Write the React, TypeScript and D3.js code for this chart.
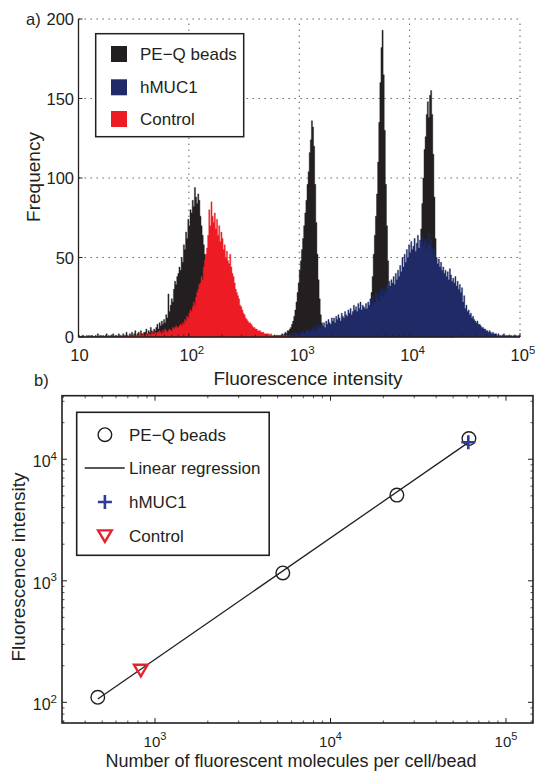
import React from "react";
import * as d3 from "d3";

// ---------- Panel a: flow-cytometry histograms (bins of 0.01 decade, one row = 0.1 decade) ----------
const BIN_WIDTH = 0.01;
const beadsStart = 1.0;
const beadsCounts = [
  1, 0, 0, 1, 1, 0, 0, 1, 0, 1,
  0, 1, 1, 0, 0, 1, 0, 2, 0, 1,
  1, 0, 1, 0, 1, 2, 0, 1, 0, 1,
  1, 2, 0, 1, 1, 0, 2, 1, 1, 0,
  2, 1, 1, 3, 1, 0, 2, 1, 3, 1,
  2, 4, 1, 2, 3, 1, 4, 2, 2, 3,
  3, 5, 2, 4, 3, 6, 4, 3, 5, 4,
  6, 8, 5, 9, 7, 10, 8, 11, 9, 14,
  12, 27, 16, 20, 24, 22, 30, 35, 33, 38,
  40, 44, 42, 50, 47, 58, 55, 66, 62, 74,
  70, 80, 78, 86, 82, 94, 88, 84, 90, 86,
  76, 70, 64, 58, 52, 46, 42, 36, 32, 28,
  25, 20, 18, 14, 12, 10, 8, 6, 5, 4,
  4, 3, 3, 2, 2, 2, 1, 1, 1, 1,
  1, 0, 1, 1, 0, 0, 1, 0, 0, 1,
  0, 1, 0, 0, 1, 0, 0, 0, 1, 0,
  0, 1, 0, 0, 0, 1, 0, 0, 1, 0,
  0, 0, 1, 0, 1, 0, 0, 1, 0, 1,
  1, 0, 1, 1, 2, 1, 2, 3, 2, 4,
  4, 5, 6, 8, 10, 13, 17, 22, 28, 34,
  42, 48, 55, 62, 70, 78, 86, 96, 104, 116,
  124, 136, 132, 120, 96, 72, 52, 36, 24, 14,
  9, 6, 4, 3, 2, 1, 1, 1, 0, 1,
  1, 0, 1, 1, 0, 1, 0, 1, 1, 0,
  1, 1, 0, 1, 1, 0, 1, 2, 1, 1,
  1, 2, 1, 2, 2, 3, 2, 3, 4, 5,
  6, 8, 10, 14, 20, 28, 38, 52, 64, 76,
  90, 110, 135, 160, 182, 193, 165, 130, 96, 70,
  48, 30, 18, 10, 6, 4, 3, 2, 2, 2,
  2, 1, 2, 2, 3, 2, 3, 3, 4, 3,
  4, 5, 5, 7, 9, 12, 18, 26, 38, 52,
  68, 84, 100, 118, 126, 140, 148, 138, 152, 155,
  140, 115, 88, 62, 40, 24, 14, 8, 4, 3,
  2, 2, 1, 2, 1, 1, 1, 1, 0, 1,
];
const hmuc1Start = 2.8;
const hmuc1Counts = [
  0, 1, 0, 1, 1, 0, 1, 1, 2, 1,
  1, 2, 1, 2, 2, 1, 3, 2, 2, 3,
  2, 3, 3, 4, 3, 2, 4, 5, 4, 3,
  5, 4, 6, 5, 7, 4, 6, 8, 6, 7,
  8, 7, 9, 6, 10, 8, 11, 9, 8, 12,
  10, 12, 9, 13, 11, 14, 12, 10, 15, 13,
  12, 16, 14, 13, 17, 15, 18, 14, 16, 20,
  17, 19, 16, 21, 18, 22, 17, 20, 19, 18,
  21, 18, 22, 20, 24, 19, 26, 22, 21, 28,
  24, 27, 23, 29, 26, 31, 25, 30, 28, 33,
  30, 35, 32, 36, 34, 38, 33, 40, 36, 42,
  38, 45, 41, 50, 44, 52, 47, 55, 50, 58,
  53, 60, 55, 57, 62, 54, 59, 64, 56, 61,
  58, 63, 57, 60, 62, 55, 59, 65, 58, 61,
  56, 52, 55, 48, 50, 46, 49, 44, 47, 42,
  44, 40, 42, 38, 41, 36, 43, 39, 35, 37,
  34, 38, 32, 35, 30, 33, 28, 31, 22, 26,
  18, 20, 16, 17, 14, 15, 12, 13, 11, 10,
  9, 10, 8, 8, 7, 6, 6, 5, 5, 4,
  4, 3, 4, 3, 2, 3, 2, 2, 2, 1,
  2, 1, 1, 1, 1, 2, 1, 1, 1, 1,
  1, 1, 1, 0, 1, 1, 1, 0, 1, 1,
];
const controlStart = 1.4;
const controlCounts = [
  0, 1, 0, 0, 1, 0, 1, 1, 0, 1,
  1, 0, 1, 1, 1, 2, 1, 1, 2, 1,
  1, 2, 1, 2, 2, 1, 3, 2, 2, 3,
  2, 3, 3, 4, 3, 2, 4, 3, 5, 4,
  3, 4, 5, 4, 4, 6, 5, 6, 7, 6,
  6, 7, 8, 7, 9, 8, 11, 10, 13, 12,
  15, 17, 16, 19, 22, 20, 25, 28, 30, 33,
  34, 38, 36, 44, 48, 52, 56, 64, 80, 70,
  85, 76, 72, 78, 68, 74, 64, 70, 60, 66,
  62, 55, 58, 50, 54, 48, 46, 52, 44, 40,
  38, 34, 30, 28, 26, 24, 20, 19, 17, 15,
  14, 12, 11, 10, 9, 9, 8, 7, 6, 6,
  5, 5, 4, 4, 4, 3, 3, 3, 2, 2,
  2, 2, 2, 1, 2, 1, 1, 1, 1, 1,
  1, 1, 0, 1, 1, 0, 1, 0, 1, 0,
  1, 0, 0, 0, 0,
];
const freqTicks = [0, 50, 100, 150, 200];
const intensityTicks = [1e1, 1e2, 1e3, 1e4, 1e5];

// ---------- Panel b: calibration ----------
const beadMolecules = [472, 5350, 23900, 61500];
const beadIntensity = [110, 1160, 5070, 14800];
const hmuc1Point = { molecules: 61000, intensity: 13800 };
const controlPoint = { molecules: 830, intensity: 185 };
const bXTicks = [1e3, 1e4, 1e5];
const bYTicks = [1e2, 1e3, 1e4];

const seriesA = [
  { name: "PE\u2212Q beads", start: beadsStart, counts: beadsCounts, color: "#231f20" },
  { name: "hMUC1", start: hmuc1Start, counts: hmuc1Counts, color: "#1f2a66" },
  { name: "Control", start: controlStart, counts: controlCounts, color: "#ed1c24" },
];

const FONT = "'Liberation Sans', Arial, Helvetica, sans-serif";
const INK = "#231f20";

function minorTicks(domain: number[]) {
  const out: number[] = [];
  const lo = Math.floor(Math.log10(domain[0]));
  const hi = Math.ceil(Math.log10(domain[1]));
  for (let e = lo; e <= hi; e++) {
    for (let m = 2; m <= 9; m++) {
      const v = m * Math.pow(10, e);
      if (v > domain[0] && v < domain[1]) out.push(v);
    }
  }
  return out;
}

function Pow10({ v, x, y, anchor, size, sup, plainTen }: any) {
  const e = Math.round(Math.log10(v));
  if (e === 1 && plainTen) {
    return (
      <text x={x} y={y} textAnchor={anchor} fontSize={size} fontFamily={FONT} fill={INK}>
        10
      </text>
    );
  }
  return (
    <text x={x} y={y} textAnchor={anchor} fontSize={size} fontFamily={FONT} fill={INK}>
      10
      <tspan dy={-7.5} fontSize={sup}>{e}</tspan>
    </text>
  );
}

export default function App() {
  // ----- panel a scales -----
  const xa = d3.scaleLog().domain([1e1, 1e5]).range([78.5, 520]);
  const ya = d3.scaleLinear().domain([0, 200]).range([337, 19]);

  const area = d3
    .area<{ lx: number; v: number }>()
    .x((d) => xa(Math.pow(10, d.lx)))
    .y0(ya(0))
    .y1((d) => ya(d.v))
    .curve(d3.curveStepAfter);

  const histPaths = seriesA.map((s) => {
    const pts = s.counts.map((v, i) => ({ lx: s.start + i * BIN_WIDTH, v }));
    pts.push({ lx: s.start + s.counts.length * BIN_WIDTH, v: s.counts[s.counts.length - 1] });
    return { d: area(pts) || "", color: s.color };
  });

  // ----- panel b scales -----
  const xb = d3.scaleLog().domain([Math.pow(10, 2.47), Math.pow(10, 5.154)]).range([62, 533]);
  const yb = d3.scaleLog().domain([Math.pow(10, 1.83), Math.pow(10, 4.523)]).range([723, 395.7]);

  // least-squares fit in log-log space of the bead calibration points
  const lx = beadMolecules.map(Math.log10);
  const ly = beadIntensity.map(Math.log10);
  const mx = d3.mean(lx)!;
  const my = d3.mean(ly)!;
  const slope = d3.sum(lx.map((v, i) => (v - mx) * (ly[i] - my))) / d3.sum(lx.map((v) => (v - mx) ** 2));
  const icpt = my - slope * mx;
  const fitX = [d3.min(beadMolecules)!, d3.max(beadMolecules)!];
  const fitLine = d3
    .line<number>()
    .x((d) => xb(d))
    .y((d) => yb(Math.pow(10, icpt + slope * Math.log10(d))))(fitX) || "";

  const aDomain = xa.domain();
  const bxDomain = xb.domain();
  const byDomain = yb.domain();

  const dot = "1.4,4.6";
  const gridColor = "#444";

  const tri = (cx: number, cy: number, s: number) =>
    `M${cx - s},${cy - s * 0.75} L${cx + s},${cy - s * 0.75} L${cx},${cy + s * 0.95} Z`;
  const plus = (cx: number, cy: number, s: number) =>
    `M${cx - s},${cy} L${cx + s},${cy} M${cx},${cy - s} L${cx},${cy + s}`;

  const [bx0, bx1] = xb.range();
  const [by0, by1] = yb.range();

  return (
    <svg width={535} height={772} style={{ position: "absolute", left: 0, top: 0, background: "#fff" }}>
      {/* ================= Panel a ================= */}
      <g>
        {freqTicks.filter((t) => t > 0).map((t) => (
          <line key={"gy" + t} x1={xa.range()[0]} x2={xa.range()[1]} y1={ya(t)} y2={ya(t)} stroke={gridColor} strokeWidth={0.9} strokeDasharray={dot} />
        ))}
        {intensityTicks.filter((t) => t > 10).map((t) => (
          <line key={"gx" + t} x1={xa(t)} x2={xa(t)} y1={ya(0)} y2={ya(200)} stroke={gridColor} strokeWidth={0.9} strokeDasharray={dot} />
        ))}
        {histPaths.map((p, i) => (
          <path key={i} d={p.d} fill={p.color} stroke={p.color} strokeWidth={0.4} />
        ))}
        <line x1={xa.range()[0]} x2={xa.range()[0]} y1={ya(0)} y2={ya(200)} stroke={INK} strokeWidth={1.3} />
        <line x1={xa.range()[0]} x2={xa.range()[1]} y1={ya(0)} y2={ya(0)} stroke={INK} strokeWidth={1.3} />
        {freqTicks.map((t) => (
          <g key={"yt" + t}>
            <line x1={xa.range()[0]} x2={xa.range()[0] + 4} y1={ya(t)} y2={ya(t)} stroke={INK} strokeWidth={1} />
            <text x={74} y={ya(t) + 6} textAnchor="end" fontSize={16.5} fontFamily={FONT} fill={INK}>
              {t}
            </text>
          </g>
        ))}
        {intensityTicks.map((t) => (
          <g key={"xt" + t}>
            <line x1={xa(t)} x2={xa(t)} y1={ya(0)} y2={ya(0) - 4} stroke={INK} strokeWidth={1} />
            <Pow10 v={t} x={xa(t) + (t > 10 ? 3 : 1)} y={361} anchor="middle" size={16.5} sup={11.5} plainTen />
          </g>
        ))}
        {minorTicks(aDomain).map((t) => (
          <line key={"xm" + t} x1={xa(t)} x2={xa(t)} y1={ya(0)} y2={ya(0) - 2.5} stroke={INK} strokeWidth={0.8} />
        ))}
        <text x={308} y={385} textAnchor="middle" fontSize={19} fontFamily={FONT} fill={INK}>
          Fluorescence intensity
        </text>
        <text transform={`translate(40,177) rotate(-90)`} textAnchor="middle" fontSize={19} fontFamily={FONT} fill={INK}>
          Frequency
        </text>
        <text x={26} y={25} fontSize={16.5} fontFamily={FONT} fill={INK}>
          a)
        </text>
        <rect x={95.7} y={33.7} width={148} height={103} fill="#fff" stroke={INK} strokeWidth={1.5} />
        {seriesA.map((s, i) => {
          const cy = [54, 87.3, 119][i];
          return (
            <g key={"la" + i}>
              <rect x={111} y={cy - 8} width={16} height={16} fill={s.color} />
              <text x={140} y={cy + 6} fontSize={17} fontFamily={FONT} fill={INK}>
                {s.name}
              </text>
            </g>
          );
        })}
      </g>

      {/* ================= Panel b ================= */}
      <g>
        <text x={34} y={386} fontSize={16.5} fontFamily={FONT} fill={INK}>
          b)
        </text>
        <rect x={bx0} y={by1} width={bx1 - bx0} height={by0 - by1} fill="none" stroke={INK} strokeWidth={1.6} />
        {bXTicks.map((t) => (
          <g key={"bxt" + t}>
            <line x1={xb(t)} x2={xb(t)} y1={by0} y2={by0 - 5} stroke={INK} strokeWidth={1} />
            <line x1={xb(t)} x2={xb(t)} y1={by1} y2={by1 + 5} stroke={INK} strokeWidth={1} />
            <Pow10 v={t} x={xb(t)} y={747} anchor="middle" size={15} sup={11} />
          </g>
        ))}
        {minorTicks(bxDomain).map((t) => (
          <g key={"bxm" + t}>
            <line x1={xb(t)} x2={xb(t)} y1={by0} y2={by0 - 2.5} stroke={INK} strokeWidth={0.8} />
            <line x1={xb(t)} x2={xb(t)} y1={by1} y2={by1 + 2.5} stroke={INK} strokeWidth={0.8} />
          </g>
        ))}
        {bYTicks.map((t) => (
          <g key={"byt" + t}>
            <line x1={bx0} x2={bx0 + 5} y1={yb(t)} y2={yb(t)} stroke={INK} strokeWidth={1} />
            <line x1={bx1} x2={bx1 - 5} y1={yb(t)} y2={yb(t)} stroke={INK} strokeWidth={1} />
            <Pow10 v={t} x={57} y={yb(t) + 8} anchor="end" size={16} sup={11.5} />
          </g>
        ))}
        {minorTicks(byDomain).map((t) => (
          <g key={"bym" + t}>
            <line x1={bx0} x2={bx0 + 2.5} y1={yb(t)} y2={yb(t)} stroke={INK} strokeWidth={0.8} />
            <line x1={bx1} x2={bx1 - 2.5} y1={yb(t)} y2={yb(t)} stroke={INK} strokeWidth={0.8} />
          </g>
        ))}
        <text x={291} y={767} textAnchor="middle" fontSize={18} fontFamily={FONT} fill={INK}>
          Number of fluorescent molecules per cell/bead
        </text>
        <text transform={`translate(25,567) rotate(-90)`} textAnchor="middle" fontSize={19} fontFamily={FONT} fill={INK}>
          Fluorescence intensity
        </text>
        <path d={fitLine} fill="none" stroke={INK} strokeWidth={1.3} />
        {beadMolecules.map((m, i) => (
          <circle key={"bc" + i} cx={xb(m)} cy={yb(beadIntensity[i])} r={6.8} fill="none" stroke={INK} strokeWidth={1.4} />
        ))}
        <path d={plus(xb(hmuc1Point.molecules), yb(hmuc1Point.intensity), 7)} stroke="#2b3c9b" strokeWidth={2.6} fill="none" />
        <path d={tri(xb(controlPoint.molecules), yb(controlPoint.intensity), 6.8)} stroke="#e8222a" strokeWidth={2.4} fill="none" />
        <rect x={76.7} y={412.3} width={192.5} height={143} fill="#fff" stroke={INK} strokeWidth={1.6} />
        <circle cx={104.9} cy={434.7} r={6.8} fill="none" stroke={INK} strokeWidth={1.4} />
        <text x={129} y={440.7} fontSize={17} fontFamily={FONT} fill={INK}>PE{"\u2212"}Q beads</text>
        <line x1={84.7} x2={124.7} y1={468} y2={468} stroke={INK} strokeWidth={1.3} />
        <text x={129} y={474} fontSize={17} fontFamily={FONT} fill={INK}>Linear regression</text>
        <path d={plus(104.9, 502, 7)} stroke="#2b3c9b" strokeWidth={2.6} fill="none" />
        <text x={129} y={508} fontSize={17} fontFamily={FONT} fill={INK}>hMUC1</text>
        <path d={tri(104.9, 535.5, 6.8)} stroke="#e8222a" strokeWidth={2.4} fill="none" />
        <text x={129} y={541.5} fontSize={17} fontFamily={FONT} fill={INK}>Control</text>
      </g>
    </svg>
  );
}
